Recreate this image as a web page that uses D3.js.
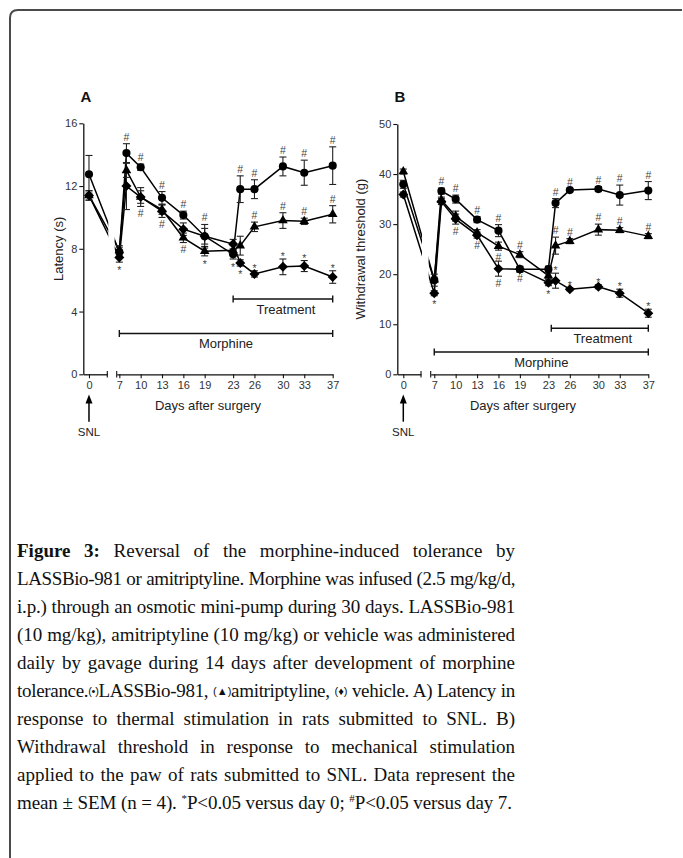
<!DOCTYPE html>
<html><head><meta charset="utf-8">
<script src="https://cdn.jsdelivr.net/npm/d3@7"></script>
<style>
body{margin:0;background:#fff;width:683px;height:858px;overflow:hidden;position:relative}
svg{position:absolute;left:0;top:0}
#cap{position:absolute;left:17px;top:537px;width:498px;font-family:"Liberation Serif","Times New Roman",serif;font-size:19px;line-height:28px;color:#111}
#cap .ln{white-space:nowrap;text-align:justify;text-align-last:justify;height:28px}
#cap .ln.last{text-align-last:left;text-align:left}
#cap .sym{font-family:"Liberation Sans",Arial,sans-serif;font-size:11px;vertical-align:2px}
#cap b{font-weight:bold}
#cap .sp{font-size:11px;position:relative;top:-7px}
</style></head><body>
<svg id="chart" width="683" height="858"></svg>
<div id="cap"></div>
<script>
// ---------- data ----------
const days = [0, 7, 8, 10, 13, 16, 19, 23, 24, 26, 30, 33, 37];
const seriesNames = ["LASSBio-981", "amitriptyline", "vehicle"];
// Panel A: latency (s)
const latLass    = [12.75, 7.8, 14.1, 13.2, 11.25, 10.15, 8.8, 7.65, 11.8, 11.8, 13.25, 12.85, 13.3];
const latLassErr = [1.2, 0.3, 0.6, 0.2, 0.4, 0.25, 0.75, 0.3, 0.85, 0.6, 0.6, 0.8, 1.2];
const latAmi     = [11.4, 7.9, 13.0, 11.3, 10.5, 8.7, 7.85, 7.9, 8.2, 9.4, 9.8, 9.75, 10.2];
const latAmiErr  = [0.3, 0.3, 0.45, 0.4, 0.3, 0.3, 0.3, 0.3, 0.6, 0.3, 0.5, 0.2, 0.55];
const latVeh     = [11.4, 7.45, 12.0, 11.3, 10.4, 9.25, 8.8, 8.3, 7.1, 6.4, 6.85, 6.9, 6.2];
const latVehErr  = [0.3, 0.3, 1.5, 0.6, 0.4, 0.4, 0.5, 0.3, 0.2, 0.2, 0.5, 0.35, 0.4];
// Panel B: withdrawal threshold (g)
const thrLass    = [37.95, 18.8, 36.6, 35.0, 30.9, 28.7, 21.0, 21.0, 34.2, 36.8, 37.0, 35.8, 36.7];
const thrLassErr = [0.8, 1.2, 0.6, 0.8, 0.6, 1.2, 0.6, 0.6, 0.9, 0.3, 0.5, 2.0, 1.8];
const thrAmi     = [40.5, 18.9, 34.8, 31.6, 28.3, 25.6, 23.9, 19.7, 25.7, 26.6, 28.9, 28.8, 27.6];
const thrAmiErr  = [0.5, 0.5, 0.6, 1.0, 0.6, 0.8, 0.6, 0.5, 1.7, 0.5, 1.1, 0.5, 0.5];
const thrVeh     = [35.9, 16.2, 34.5, 31.0, 27.8, 21.1, 21.0, 18.3, 18.7, 17.0, 17.5, 16.2, 12.2];
const thrVehErr  = [0.5, 0.5, 0.6, 1.0, 0.6, 1.5, 0.5, 0.6, 1.5, 0.3, 0.4, 0.8, 0.8];
// axis ticks
const xTicks = [7, 10, 13, 16, 19, 23, 26, 30, 33, 37];
const yTicksA = [0, 4, 8, 12, 16];
const yTicksB = [0, 10, 20, 30, 40, 50];
// significance marks: [series index, day, symbol, side]
const marksA = [
  [2,7,"*","below"],[0,8,"#","above"],
  [0,10,"#","above"],[2,10,"#","below"],
  [0,13,"#","above"],[2,13,"#","below"],
  [0,16,"#","above"],[1,16,"#","below"],
  [0,19,"#","above"],[1,19,"*","below"],
  [0,23,"*","below"],
  [0,24,"#","above"],[2,24,"*","below"],
  [0,26,"#","above"],[1,26,"#","above"],[2,26,"*","above"],
  [0,30,"#","above"],[1,30,"#","above"],[2,30,"*","above"],
  [0,33,"#","above"],[1,33,"#","above"],[2,33,"*","above"],
  [0,37,"#","above"],[1,37,"#","above"],[2,37,"*","above"]
];
const marksB = [
  [2,7,"*","below"],[0,8,"#","above"],
  [0,10,"#","above"],[2,10,"#","below"],
  [0,13,"#","above"],[2,13,"#","below"],
  [0,16,"#","above"],[1,16,"#","below"],[2,16,"#","below"],
  [1,19,"#","above"],[2,19,"#","below"],
  [2,23,"*","below"],
  [0,24,"#","above"],[1,24,"#","above"],[2,24,"*","above"],
  [0,26,"#","above"],[1,26,"#","above"],[2,26,"*","above"],
  [0,30,"#","above"],[1,30,"#","above"],[2,30,"*","above"],
  [0,33,"#","above"],[1,33,"#","above"],[2,33,"*","above"],
  [0,37,"#","above"],[1,37,"#","above"],[2,37,"*","above"]
];
// treatment periods: [start day, end day, level]
const morphineA = [7, 37, 2.6], treatmentA = [23, 37, 4.8];
const morphineB = [7, 37, 4.45], treatmentB = [23.4, 37, 9.2];

// ---------- drawing ----------
const svg = d3.select("#chart");
svg.append("path").attr("d","M10,858V18Q10,10 18,10H682")
  .attr("fill","none").attr("stroke","#4a4a4a").attr("stroke-width",2);

const SANS = '"Liberation Sans", Arial, sans-serif';
const diamond = "M0,-5L5,0L0,5L-5,0Z";
const shapes = [d3.symbol(d3.symbolCircle, 52)(), d3.symbol(d3.symbolTriangle, 40)(), diamond];
const fmt = d3.format("d");

function panel(o){
  const g = svg.append("g");
  const y = d3.scaleLinear().domain([0, o.yMax]).range([374.3, o.yTop]);
  const x1 = d3.scaleLinear().domain(o.d1).range(o.r1);
  const x2 = d3.scaleLinear().domain(o.d2).range(o.r2);
  const X = d => d < 5 ? x1(d) : x2(d);

  // axes
  const ya = g.append("g").attr("transform",`translate(${o.r1[0]},0)`)
    .call(d3.axisLeft(y).tickValues(o.yTicks).tickFormat(fmt).tickSize(4).tickSizeOuter(0).tickPadding(2));
  const xa1 = g.append("g").attr("transform","translate(0,374.3)")
    .call(d3.axisBottom(x1).tickValues([0]).tickFormat(fmt).tickSize(4).tickSizeOuter(0).tickPadding(3));
  const xa2 = g.append("g").attr("transform","translate(0,374.3)")
    .call(d3.axisBottom(x2).tickValues(xTicks).tickFormat(fmt).tickSize(4).tickSizeOuter(0).tickPadding(3));
  [ya, xa1, xa2].forEach(a => {
    a.select(".domain").attr("stroke","#111").attr("stroke-width",1.3);
    a.selectAll(".tick line").attr("stroke","#111").attr("stroke-width",1.1);
    a.selectAll("text").attr("font-family",SANS).attr("font-size",11).attr("fill","#333");
  });
  // break marks
  [o.r1[1], o.r2[0]].forEach(bx => g.append("line").attr("x1",bx).attr("x2",bx)
    .attr("y1",371).attr("y2",377.5).attr("stroke","#111").attr("stroke-width",1.1));

  // clip away the axis-break gap
  const cid = "clip" + o.id;
  const cp = svg.append("defs").append("clipPath").attr("id", cid);
  cp.append("rect").attr("x",0).attr("y",0).attr("width",o.r1[1]+1).attr("height",858);
  cp.append("rect").attr("x",o.r2[0]-2).attr("y",0).attr("width",683).attr("height",858);

  const line = d3.line().x((v,i)=>X(days[i])).y(v=>y(v));
  o.series.forEach(s => g.append("path").attr("d", line(s.v)).attr("clip-path",`url(#${cid})`)
    .attr("fill","none").attr("stroke","#000").attr("stroke-width",1.5));
  // error bars
  o.series.forEach(s => {
    s.v.forEach((v,i) => {
      const cx = X(days[i]), e = s.e[i];
      const eg = g.append("g").attr("stroke","#222").attr("stroke-width",1.1);
      eg.append("line").attr("x1",cx).attr("x2",cx).attr("y1",y(v-e)).attr("y2",y(v+e));
      eg.append("line").attr("x1",cx-3.5).attr("x2",cx+3.5).attr("y1",y(v-e)).attr("y2",y(v-e));
      eg.append("line").attr("x1",cx-3.5).attr("x2",cx+3.5).attr("y1",y(v+e)).attr("y2",y(v+e));
    });
  });
  // markers
  o.series.forEach((s,k) => {
    g.selectAll(null).data(s.v).enter().append("path")
      .attr("d", shapes[k]).attr("fill","#000")
      .attr("transform",(v,i)=>`translate(${X(days[i])},${y(v)})`);
  });
  // significance marks
  o.marks.forEach(([k,day,sym,side]) => {
    const i = days.indexOf(day), s = o.series[k];
    const v = s.v[i], e = s.e[i];
    let by;
    if (side === "above") by = sym === "#" ? y(v+e) - 3 : y(v+e) + 1;
    else by = sym === "#" ? y(v-e) + 10.5 : y(v-e) + 12;
    g.append("text").attr("x", X(day)).attr("y", by).attr("text-anchor","middle")
      .attr("font-family",SANS).attr("font-size",10.5).attr("fill","#444").text(sym);
  });
  // period bars
  [[o.morph,"Morphine",0],[o.treat,"Treatment",3]].forEach(([p,label,dx]) => {
    const xa = X(p[0]), xb = X(p[1]), yy = y(p[2]);
    const bg = g.append("g").attr("stroke","#111").attr("stroke-width",1.4);
    bg.append("line").attr("x1",xa).attr("x2",xb).attr("y1",yy).attr("y2",yy);
    [xa,xb].forEach(xx => bg.append("line").attr("x1",xx).attr("x2",xx).attr("y1",yy-3.5).attr("y2",yy+3.5));
    g.append("text").attr("x",(xa+xb)/2+dx).attr("y",yy+14.5).attr("text-anchor","middle")
      .attr("font-family",SANS).attr("font-size",13).attr("fill","#222").text(label);
  });
  // SNL arrow
  const ax = X(0);
  g.append("line").attr("x1",ax).attr("x2",ax).attr("y1",402).attr("y2",421.7).attr("stroke","#000").attr("stroke-width",1.5);
  g.append("path").attr("d",`M${ax-3.5},403.5L${ax},394.5L${ax+3.5},403.5Z`).attr("fill","#000");
  g.append("text").attr("x",ax).attr("y",435.5).attr("text-anchor","middle")
    .attr("font-family",SANS).attr("font-size",11.5).attr("fill","#222").text("SNL");
  // labels
  g.append("text").attr("x",o.letterX).attr("y",102).attr("text-anchor","middle")
    .attr("font-family",SANS).attr("font-weight","bold").attr("font-size",15).attr("fill","#111").text(o.letter);
  g.append("text").attr("transform",`translate(${o.ylabX},${(374.3+o.yTop)/2}) rotate(-90)`)
    .attr("text-anchor","middle").attr("font-family",SANS).attr("font-size",13).attr("fill","#222").text(o.ylab);
  g.append("text").attr("x",o.xlabX).attr("y",410).attr("text-anchor","middle")
    .attr("font-family",SANS).attr("font-size",13).attr("fill","#222").text("Days after surgery");
}

panel({id:"A", yMax:16, yTop:123.3, yTicks:yTicksA,
  d1:[-0.8,2.58], r1:[83.3,107.3], d2:[6.63,37], r2:[116.7,332.7],
  series:[{v:latLass,e:latLassErr},{v:latAmi,e:latAmiErr},{v:latVeh,e:latVehErr}],
  marks:marksA, morph:morphineA, treat:treatmentA,
  letter:"A", letterX:86, ylab:"Latency (s)", ylabX:62.5, xlabX:208});
panel({id:"B", yMax:50, yTop:124, yTicks:yTicksB,
  d1:[-0.84,2.48], r1:[397.3,421], d2:[6.5,37], r2:[430.7,648.3],
  series:[{v:thrLass,e:thrLassErr},{v:thrAmi,e:thrAmiErr},{v:thrVeh,e:thrVehErr}],
  marks:marksB, morph:morphineB, treat:treatmentB,
  letter:"B", letterX:400, ylab:"Withdrawal threshold (g)", ylabX:365, xlabX:523});

// ---------- caption ----------
const capLines = [
  '<b>Figure 3:</b> Reversal of the morphine-induced tolerance by',
  'LASSBio-981 or amitriptyline. Morphine was infused (2.5 mg/kg/d,',
  'i.p.) through an osmotic mini-pump during 30 days. LASSBio-981',
  '(10 mg/kg), amitriptyline (10 mg/kg) or vehicle was administered',
  'daily by gavage during 14 days after development of morphine',
  'tolerance.<span class="sym">(•)</span>LASSBio-981, <span class="sym">(▲)</span>amitriptyline, <span class="sym">(♦)</span> vehicle. A) Latency in',
  'response to thermal stimulation in rats submitted to SNL. B)',
  'Withdrawal threshold in response to mechanical stimulation',
  'applied to the paw of rats submitted to SNL. Data represent the',
  'mean ± SEM (n = 4). <span class="sp">*</span>P&lt;0.05 versus day 0; <span class="sp">#</span>P&lt;0.05 versus day 7.'
];
const cap = d3.select("#cap");
capLines.forEach((h,i) => {
  const d = cap.append("div").attr("class","ln" + (i===capLines.length-1?" last":""));
  const sp = d.append("span").html(h);
  const w = sp.node().getBoundingClientRect().width;
  const W = 498;
  if (w > W) {
    const n = sp.node().textContent.length;
    d.style("letter-spacing", ((W - w) / n - 0.05) + "px");
  }
  d.html(h);
});
</script>
</body></html>
